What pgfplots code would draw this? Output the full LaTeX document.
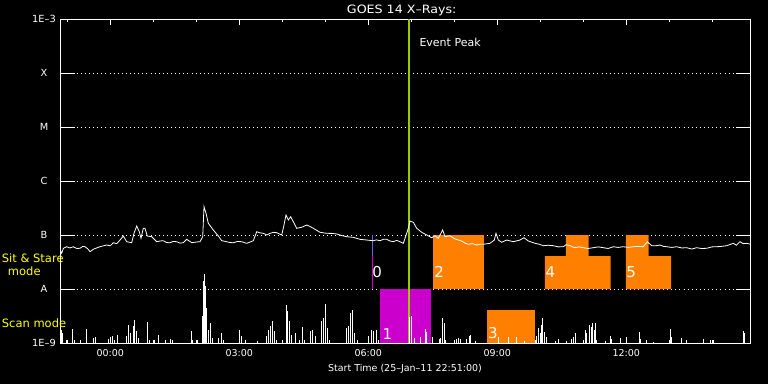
\documentclass[border=0pt]{standalone}
\usepackage{pgfplots}
\pgfplotsset{compat=1.18}
\usepackage{fontspec}
\setmainfont{DejaVu Sans}
\definecolor{boxorange}{RGB}{255,128,0}
\definecolor{boxmagenta}{RGB}{204,0,204}
\definecolor{peakgreen}{RGB}{153,204,0}
\definecolor{zeroblue}{RGB}{100,100,255}
\definecolor{modeyellow}{RGB}{255,255,0}
\begin{document}
\begin{tikzpicture}
\fill[black] (0,0) rectangle (768pt,384pt);
\useasboundingbox (0,0) rectangle (768pt,384pt);
\begin{axis}[
  at={(60.3pt,41pt)}, anchor=south west,
  width=690pt, height=324pt, scale only axis,
  xmin=-1.163, xmax=14.884, ymin=0, ymax=6,
  axis line style={white, line width=1pt},
  xtick={0,3,6,9,12},
  xticklabels={00:00,03:00,06:00,09:00,12:00},
  minor xtick={-1,1,2,4,5,7,8,10,11,13,14},
  ytick={0,1,2,3,4,5,6},
  yticklabels={1E--9,A,B,C,M,X,1E--3},
  tick align=inside,
  major tick length=6pt, minor tick length=3pt,
  tick style={white, line width=0.8pt},
  ytick style={draw=none},
  xticklabel style={font=\fontsize{9.5}{11}\selectfont, text=white, yshift=-3pt},
  yticklabel style={font=\fontsize{9.8}{11}\selectfont, text=white, anchor=center, xshift=-16.3pt},
  ymajorgrids,
  grid style={white, line width=0.8pt, dash pattern=on 0.9pt off 3.2pt},
  clip=true,
]
% observing boxes
\addplot[fill=boxmagenta, draw=none] coordinates {(6.272,0) (6.272,1) (7.451,1) (7.451,0)} --cycle;
\addplot[fill=boxorange, draw=none] coordinates {(7.505,1) (7.505,2) (8.684,2) (8.684,1)} --cycle;
\addplot[fill=boxorange, draw=none] coordinates {(8.760,0) (8.760,0.61) (9.870,0.61) (9.870,0)} --cycle;
\addplot[fill=boxorange, draw=none] coordinates {(10.109,1) (10.109,1.61) (10.597,1.61) (10.597,2) (11.126,2) (11.126,1.61) (11.637,1.61) (11.637,1)} --cycle;
\addplot[fill=boxorange, draw=none] coordinates {(11.993,1) (11.993,2) (12.521,2) (12.521,1.61) (13.040,1.61) (13.040,1)} --cycle;
% event 0 markers
\addplot[zeroblue, line width=1pt] coordinates {(6.086,1) (6.086,2)};
\addplot[boxmagenta, line width=1pt] coordinates {(6.109,1) (6.109,1.61)};
% event peak
\addplot[peakgreen, line width=2pt] coordinates {(6.947,0) (6.947,6)};
% scan mode spikes
\addplot[ycomb, white, line width=0.9pt, mark=none] coordinates {
(-1.147,0.246) (-1.107,0.185) (-1.030,0.061) (-0.874,0.265) (-0.844,0.061)
(-0.688,0.061) (-0.549,0.265) (-0.395,0.093) (-0.356,0.106) (-0.047,0.080)
(-0.007,0.106) (0.047,0.124) (0.086,0.061) (0.163,0.143) (0.365,0.124)
(0.419,0.339) (0.458,0.185) (0.535,0.309) (0.558,0.431) (0.598,0.217)
(0.651,0.093) (0.860,0.389) (0.907,0.061) (1.016,0.061) (1.116,0.143)
(1.272,0.050) (1.388,0.080) (1.442,0.061) (1.877,0.228) (1.907,0.061)
(2.023,0.061) (2.140,0.494) (2.163,1.143) (2.186,1.278) (2.219,1.050)
(2.242,0.648) (2.279,0.246) (2.335,0.370) (2.372,0.093) (2.512,0.093)
(2.591,0.185) (2.628,0.061) (3.000,0.246) (3.056,0.124) (3.149,0.061)
(3.419,0.031) (3.637,0.124) (3.674,0.246) (3.730,0.309) (3.767,0.413)
(3.807,0.217) (3.853,0.061) (4.086,0.698) (4.126,0.587) (4.163,0.402)
(4.219,0.154) (4.295,0.185) (4.395,0.061) (4.458,0.291) (4.505,0.061)
(4.660,0.217) (4.698,0.246) (4.760,0.124) (4.916,0.402) (4.953,0.463)
(5.009,0.722) (5.047,0.278) (5.093,0.061) (5.481,0.278) (5.535,0.309)
(5.591,0.556) (5.628,0.617) (5.667,0.185) (5.744,0.061) (6.000,0.124)
(6.079,0.246) (6.116,0.217) (6.179,0.246) (6.233,0.061) (6.953,0.487)
(6.993,0.500) (7.063,0.087) (7.202,0.117) (7.319,0.254) (7.358,0.209)
(7.498,0.117) (7.651,0.069) (7.684,0.087) (7.721,0.457) (7.760,0.376)
(7.784,0.056) (8.040,0.069) (8.093,0.087) (8.133,0.069) (8.288,0.069)
(8.342,0.130) (8.381,0.148) (8.481,0.043) (9.023,0.106) (9.256,0.117)
(9.435,0.106) (9.621,0.043) (9.877,0.056) (9.916,0.130) (9.953,0.272)
(9.993,0.180) (10.033,0.333) (10.056,0.457) (10.093,0.209) (10.133,0.117)
(10.342,0.043) (10.419,0.069) (10.614,0.043) (10.730,0.069) (10.767,0.117)
(10.807,0.180) (11.040,0.241) (11.079,0.180) (11.140,0.333) (11.179,0.291)
(11.219,0.365) (11.256,0.241) (11.279,0.365) (11.312,0.056) (11.505,0.043)
(11.621,0.130) (11.660,0.069) (11.853,0.087) (12.009,0.087) (12.302,0.209)
(12.335,0.069) (12.474,0.056) (12.628,0.024) (13.016,0.254) (13.056,0.117)
(13.288,0.087) (13.405,0.056) (13.791,0.069) (13.947,0.056) (14.023,0.056)
(14.721,0.228) (14.744,0.180)
};
% X-ray flux (log10 flux + 9)
\addplot[white, line width=0.8pt, mark=none] coordinates {
(-1.163,1.722) (-1.130,1.661) (-1.093,1.754) (-1.014,1.783) (-0.94,1.76) (-0.860,1.783)
(-0.78,1.75) (-0.705,1.754) (-0.64,1.79) (-0.588,1.783) (-0.52,1.74) (-0.472,1.691)
(-0.395,1.735) (-0.32,1.76) (-0.240,1.783) (-0.16,1.80) (-0.084,1.815) (0.0,1.80)
(0.070,1.857) (0.15,1.84) (0.226,1.907) (0.302,1.981) (0.381,1.876) (0.498,1.857)
(0.551,2.031) (0.614,2.167) (0.674,2.061) (0.714,1.939) (0.767,2.124) (0.807,2.124)
(0.860,1.981) (0.963,1.969) (1.079,1.876) (1.16,1.89) (1.233,1.894) (1.31,1.86)
(1.388,1.857) (1.46,1.88) (1.544,1.876) (1.62,1.85) (1.698,1.857) (1.777,1.920)
(1.893,1.857) (2.0,1.87) (2.086,1.876) (2.149,1.969) (2.179,2.524) (2.226,2.402)
(2.279,2.217) (2.395,2.093) (2.512,1.981) (2.591,1.894) (2.707,1.876) (2.78,1.86)
(2.860,1.857) (2.96,1.88) (3.056,1.876) (3.172,1.846) (3.25,1.87) (3.326,1.894)
(3.405,2.061) (3.48,2.04) (3.558,2.031) (3.64,2.00) (3.714,2.031) (3.80,2.05)
(3.870,2.043) (3.986,2.0) (4.023,2.124) (4.086,2.370) (4.140,2.278) (4.195,2.339)
(4.256,2.246) (4.335,2.124) (4.451,2.143) (4.567,2.185) (4.64,2.16) (4.721,2.124)
(4.877,2.050) (5.033,2.031) (5.15,2.03) (5.265,2.019) (5.38,1.99) (5.498,1.969)
(5.651,1.957) (5.807,1.920) (5.963,1.907) (6.116,1.894) (6.19,1.91) (6.272,1.894)
(6.35,1.92) (6.428,1.920) (6.50,1.89) (6.581,1.876) (6.66,1.90) (6.737,1.876)
(6.814,1.846) (6.893,2.031) (6.930,2.124) (6.970,2.259) (7.047,2.235) (7.126,2.124)
(7.242,2.050) (7.358,2.0) (7.474,1.950) (7.551,1.987) (7.628,1.939) (7.730,2.093)
(7.784,1.969) (7.900,1.987) (8.016,1.926) (8.172,1.889) (8.25,1.85) (8.326,1.828)
(8.42,1.84) (8.521,1.815) (8.60,1.83) (8.674,1.828) (8.830,1.846) (8.930,1.907)
(8.970,2.031) (9.023,1.907) (9.102,1.865) (9.219,1.907) (9.372,1.876) (9.528,1.907)
(9.621,1.950) (9.721,1.889) (9.877,1.846) (9.97,1.83) (10.070,1.802) (10.19,1.81)
(10.302,1.802) (10.42,1.78) (10.535,1.783) (10.60,1.82) (10.691,1.802) (10.75,1.78)
(10.807,1.765) (10.90,1.78) (11.0,1.765) (11.11,1.75) (11.233,1.765) (11.35,1.78)
(11.465,1.765) (11.58,1.75) (11.698,1.783) (11.81,1.77) (11.930,1.783) (12.05,1.77)
(12.163,1.783) (12.28,1.79) (12.395,1.783) (12.488,1.876) (12.591,1.802) (12.69,1.80)
(12.784,1.815) (12.86,1.79) (12.940,1.783) (13.06,1.77) (13.172,1.783) (13.29,1.76)
(13.405,1.765) (13.52,1.74) (13.637,1.765) (13.75,1.75) (13.870,1.754) (13.99,1.78)
(14.102,1.783) (14.22,1.79) (14.335,1.802) (14.488,1.846) (14.56,1.81) (14.644,1.876)
(14.72,1.84) (14.800,1.846) (14.884,1.83)
};
% y tick stubs on both sides
\draw[white, line width=0.9pt] (axis cs:-1.163,1) -- (axis cs:-0.826,1);
\draw[white, line width=0.9pt] (axis cs:-1.163,2) -- (axis cs:-0.826,2);
\draw[white, line width=0.9pt] (axis cs:-1.163,3) -- (axis cs:-0.826,3);
\draw[white, line width=0.9pt] (axis cs:-1.163,4) -- (axis cs:-0.826,4);
\draw[white, line width=0.9pt] (axis cs:-1.163,5) -- (axis cs:-0.826,5);
\draw[white, line width=0.9pt] (axis cs:14.547,1) -- (axis cs:14.884,1);
\draw[white, line width=0.9pt] (axis cs:14.547,2) -- (axis cs:14.884,2);
\draw[white, line width=0.9pt] (axis cs:14.547,3) -- (axis cs:14.884,3);
\draw[white, line width=0.9pt] (axis cs:14.547,4) -- (axis cs:14.884,4);
\draw[white, line width=0.9pt] (axis cs:14.547,5) -- (axis cs:14.884,5);
% labels
\node[anchor=west, inner sep=0, text=white, font=\fontsize{15}{17}\selectfont] at (axis cs:6.09,1.315) {0};
\node[anchor=west, inner sep=0, text=white, font=\fontsize{15}{17}\selectfont] at (axis cs:6.33,0.16) {1};
\node[anchor=west, inner sep=0, text=white, font=\fontsize{15}{17}\selectfont] at (axis cs:7.53,1.315) {2};
\node[anchor=west, inner sep=0, text=white, font=\fontsize{15}{17}\selectfont] at (axis cs:8.78,0.185) {3};
\node[anchor=west, inner sep=0, text=white, font=\fontsize{15}{17}\selectfont] at (axis cs:10.12,1.315) {4};
\node[anchor=west, inner sep=0, text=white, font=\fontsize{15}{17}\selectfont] at (axis cs:12.00,1.315) {5};
\node[anchor=west, inner sep=0, text=white, font=\fontsize{11}{13}\selectfont] at (axis cs:7.186,5.565) {Event Peak};
\end{axis}
\node[text=white, font=\fontsize{11.5}{13}\selectfont] at (401.7pt,374pt) {\scalebox{1.1}[1]{GOES 14 X--Rays:}};
\node[text=white, font=\fontsize{9.5}{11}\selectfont] at (405pt,15pt) {Start Time (25--Jan--11 22:51:00)};
\node[anchor=west, inner sep=0, text=modeyellow, font=\fontsize{11.5}{13}\selectfont] at (1.7pt,125.5pt) {Sit \& Stare};
\node[inner sep=0, text=modeyellow, font=\fontsize{11.5}{13}\selectfont] at (24.3pt,113pt) {mode};
\node[anchor=west, inner sep=0, text=modeyellow, font=\fontsize{11.5}{13}\selectfont] at (1.7pt,60.5pt) {Scan mode};
\end{tikzpicture}
\end{document}
